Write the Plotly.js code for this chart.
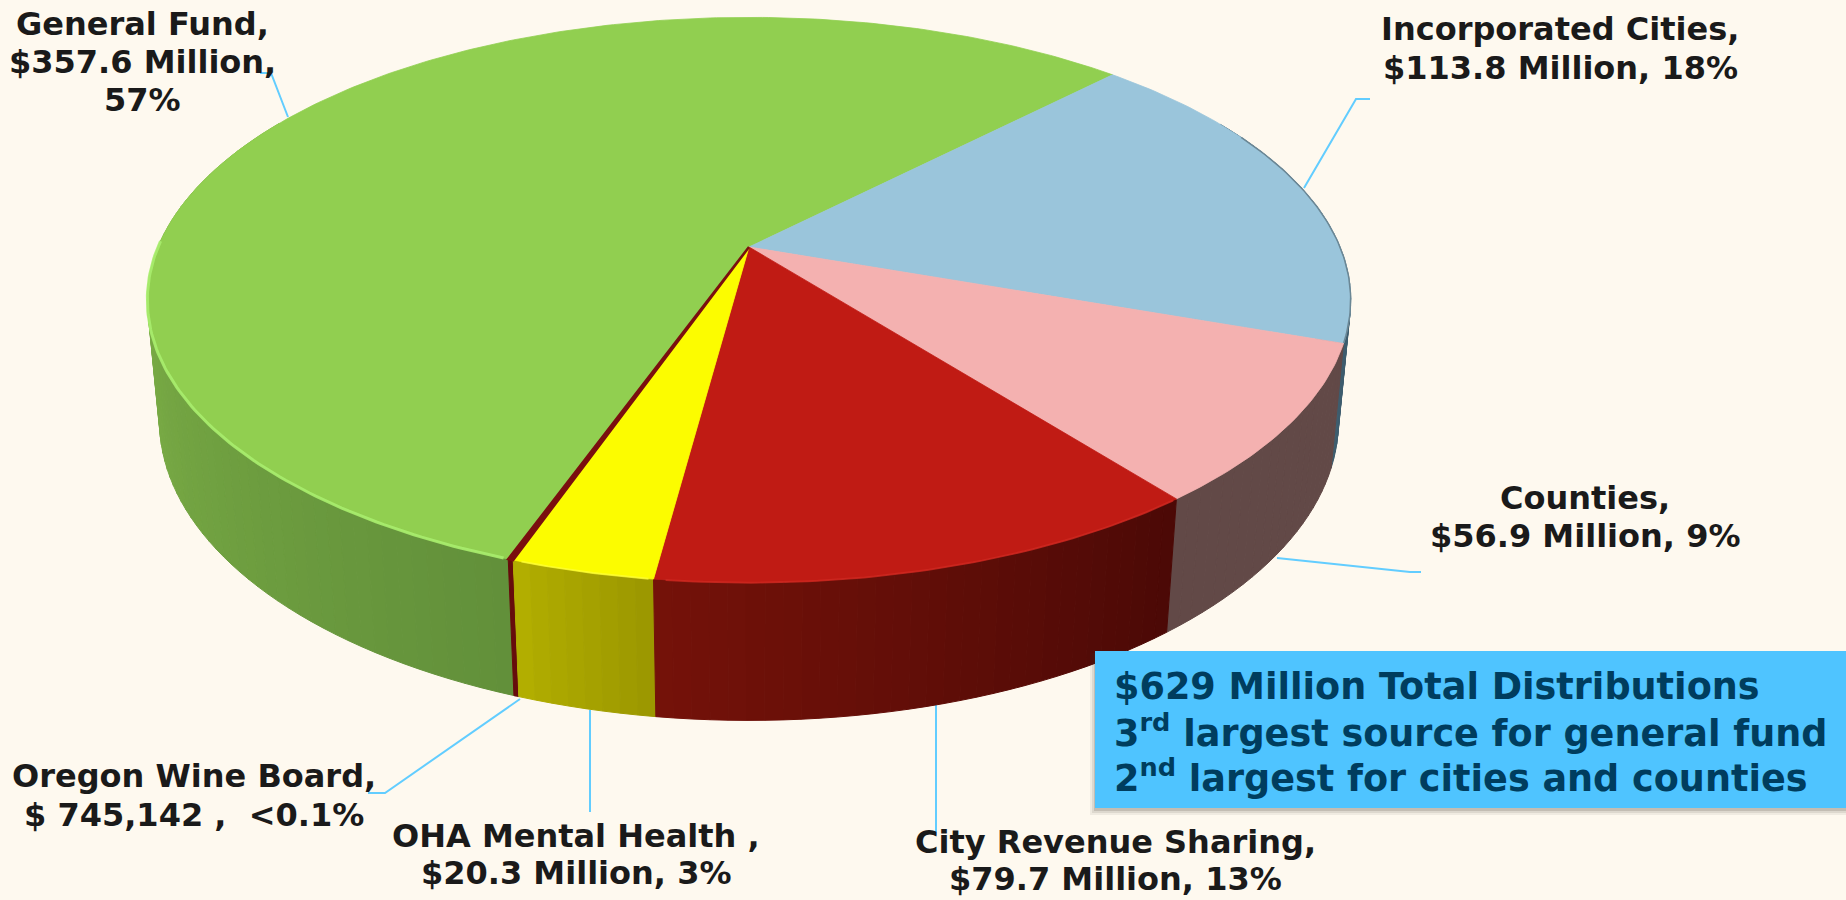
<!DOCTYPE html>
<html>
<head>
<meta charset="utf-8">
<script src="https://cdn.plot.ly/plotly-3.0.1.min.js"></script>
<style>html,body{margin:0;padding:0;background:#FEF9EF;overflow:hidden}#chart{width:1846px;height:900px}</style>
</head>
<body>
<div id="chart"></div>
<script>
// ---- data ----
const categories = ["General Fund","Incorporated Cities","Counties","City Revenue Sharing","OHA Mental Health","Oregon Wine Board"];
const valuesMillions = [357.6,113.8,56.9,79.7,20.3,0.745142];
const labelLines = [
  ["General Fund,","$357.6 Million,","57%"],
  ["Incorporated Cities,","$113.8 Million, 18%"],
  ["Counties,","$56.9 Million, 9%"],
  ["City Revenue Sharing,","$79.7 Million, 13%"],
  ["OHA Mental Health ,","$20.3 Million, 3%"],
  ["Oregon Wine Board,","$ 745,142 ,  <0.1%"]
];
const noteLines = ["$629 Million Total Distributions","3<sup>rd</sup> largest source for general fund","2<sup>nd</sup> largest for cities and counties"];

// ---- styles ----
const topColors = ["#91CF50","#9AC5DB","#F4B1B0","#C01B14","#FCFC00","#7A0F0F"];
const sideFrom  = ["#62903A","#3E5D6E","#624947","#4B0906","#9A9600","#660C0C"];
const sideTo    = ["#84B84A","#3E5D6E","#624947","#751209","#B4B000","#660C0C"];
const sideSpan  = [85,65,33,46,12,1];
const rimColors = ["#A9EE6E",null,null,"#D22A22","#FFFF3C",null];
const labelCenter = [[142,[24,62,100]],[1560,[29,68]],[1585,[498,536]],[1115,[842,879]],[576,[836,873]],[194,[776,815]]];
const leaders = [
  [[260,271,288],[73,73,117]],
  [[1370,1356,1304],[99,99,188]],
  [[1421,1410,1277],[572,572,558]],
  [[936,936],[705,835]],
  [[590,590],[710,812]],
  [[368,385,520],[793,793,699]]
];

// ---- projection of the tilted disc (viewed in perspective) ----
const cam = {cx:749,cy:247,a:591,b:272.7,k:0.1875,c:121.4,m:0.02};
const startAngle = 199.6;
function proj(deg,z){
  const r = deg*Math.PI/180, u = Math.sin(r), v = -Math.cos(r);
  const w = 1 - cam.k*v + cam.m*z;
  return [cam.cx + cam.a*u/w, cam.cy + (cam.b*v + cam.c*z)/w, v];
}
function hexMix(a,b,t){
  t = Math.max(0,Math.min(1,t));
  const p = s=>[1,3,5].map(i=>parseInt(s.substr(i,2),16));
  const A=p(a),B=p(b);
  return "rgb("+A.map((x,i)=>Math.round(x+(B[i]-x)*t)).join(",")+")";
}
const total = valuesMillions.reduce((s,x)=>s+x,0);
const bounds = [];
let cursor = startAngle;
valuesMillions.forEach(val=>{const next=cursor+val/total*360;bounds.push([cursor,next]);cursor=next;});

const traces = [];
// leader lines (under the pie)
leaders.forEach(l=>traces.push({type:"scatter",mode:"lines",x:l[0],y:l[1],line:{color:"#62CDFF",width:2},hoverinfo:"skip",showlegend:false}));

// side wall strips
const strips = [];
bounds.forEach((bd,i)=>{
  const step = 1.5, n = Math.max(1,Math.ceil((bd[1]-bd[0])/step)), d=(bd[1]-bd[0])/n;
  for(let j=0;j<n;j++){
    const a0=bd[0]+j*d, a1=a0+d, mid=proj((a0+a1)/2,0);
    if(mid[2] < -0.5) continue;
    const xs=[],ys=[];
    [[a0,0],[a1,0],[a1,1],[a0,1],[a0,0]].forEach(q=>{const P=proj(q[0],q[1]);xs.push(P[0]);ys.push(P[1]);});
    strips.push({v:mid[2],x:xs,y:ys,color:hexMix(sideFrom[i],sideTo[i],(j+0.5)*d/sideSpan[i]),name:categories[i]});
  }
});
strips.sort((p,q)=>p.v-q.v).forEach(s=>traces.push({type:"scatter",mode:"lines",x:s.x,y:s.y,fill:"toself",fillcolor:s.color,line:{color:s.color,width:1},hoverinfo:"skip",showlegend:false}));

// the wine-board sliver is so thin it needs a visible stroke on its wall
{
  const m=(bounds[5][0]+bounds[5][1])/2, p0=proj(m,0), p1=proj(m,1);
  traces.push({type:"scatter",mode:"lines",x:[p0[0],p1[0]],y:[p0[1],p1[1]],line:{color:sideFrom[5],width:3.5},hoverinfo:"skip",showlegend:false});
}

// top face wedges
bounds.forEach((bd,i)=>{
  const xs=[cam.cx],ys=[cam.cy];
  const n=Math.max(2,Math.ceil((bd[1]-bd[0])/0.75));
  for(let j=0;j<=n;j++){const P=proj(bd[0]+(bd[1]-bd[0])*j/n,0);xs.push(P[0]);ys.push(P[1]);}
  xs.push(cam.cx);ys.push(cam.cy);
  traces.push({type:"scatter",mode:"lines",x:xs,y:ys,fill:"toself",fillcolor:topColors[i],
    line:{color:topColors[i],width:i===5?2.5:0.8},name:categories[i],
    text:categories[i]+": $"+valuesMillions[i]+" Million",hoverinfo:"text",showlegend:false});
});

// rim highlights on the front edge
bounds.forEach((bd,i)=>{
  if(!rimColors[i]) return;
  const end = i===0 ? Math.min(bd[1],272) : bd[1];
  const xs=[],ys=[];
  for(let a=bd[0]+0.4;a<=end-0.4;a+=0.75){const P=proj(a,0);xs.push(P[0]);ys.push(P[1]);}
  traces.push({type:"scatter",mode:"lines",x:xs,y:ys,line:{color:rimColors[i],width:i===0?3:2},opacity:i===0?0.9:0.7,hoverinfo:"skip",showlegend:false});
});
// dark hairline on the blue slice's right edge
{
  const xs=[],ys=[];
  for(let a=bounds[1][0]+20;a<=bounds[1][1];a+=0.75){const P=proj(a,0);xs.push(P[0]);ys.push(P[1]);}
  traces.push({type:"scatter",mode:"lines",x:xs,y:ys,line:{color:"#6B8795",width:1.5},hoverinfo:"skip",showlegend:false});
}

// text
const annotations = [];
labelLines.forEach((lines,i)=>{
  lines.forEach((t,j)=>annotations.push({x:labelCenter[i][0],y:labelCenter[i][1][j],xref:"x",yref:"y",text:"<b>"+t+"</b>",showarrow:false,xanchor:"center",yanchor:"middle",borderpad:0,
    font:{family:"DejaVu Sans",size:32,color:"#1A1A1A"}}));
});
const noteY=[686,731,776];
noteLines.forEach((t,j)=>annotations.push({x:1113,y:noteY[j],xref:"x",yref:"y",text:"<b>"+t+"</b>",showarrow:false,xanchor:"left",yanchor:"middle",borderpad:0,
  font:{family:"DejaVu Sans",size:36.6,color:"#003D5E"}}));

// callout box with soft shadow
const shapes=[];
[[7,0.07],[5,0.10],[3,0.16]].forEach(s=>shapes.push({type:"rect",xref:"x",yref:"y",x0:1095-s[0]+2,x1:1846,y0:651+2,y1:808+s[0],fillcolor:"rgba(60,50,40,"+s[1]+")",line:{width:0},layer:"above"}));
shapes.push({type:"rect",xref:"x",yref:"y",x0:1095,x1:1846,y0:651,y1:808,fillcolor:"#4FC4FF",line:{width:0},layer:"above"});

Plotly.newPlot("chart",traces,{
  width:1846,height:900,margin:{l:0,r:0,t:0,b:0},
  paper_bgcolor:"#FEF9EF",plot_bgcolor:"#FEF9EF",showlegend:false,
  xaxis:{range:[0,1846],visible:false,fixedrange:true},
  yaxis:{range:[900,0],visible:false,fixedrange:true},
  shapes:shapes,annotations:annotations
},{displayModeBar:false,responsive:false});
</script>
</body>
</html>
